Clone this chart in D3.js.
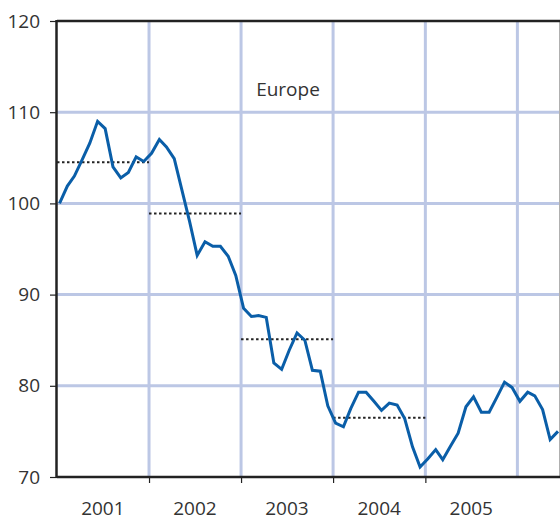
<!DOCTYPE html>
<html>
<head>
<meta charset="utf-8">
<script src="https://cdn.jsdelivr.net/npm/d3@7"></script>
<style>
  body { margin: 0; background: #fff; }
  text { font-family: "Liberation Sans Narrow", "Open Sans", sans-serif; fill: #333; }
</style>
</head>
<body>
<div id="chart"></div>
<script>
// monthly index, Europe (Jan 2001 = 100)
var values = [
  100.0, 101.9, 103.0, 104.8, 106.6, 109.0, 108.2, 104.0, 102.8, 103.4, 105.1, 104.6,
  105.5, 107.0, 106.2, 104.9, 101.5, 98.0, 94.3, 95.8, 95.3, 95.3, 94.2, 92.1,
  88.5, 87.6, 87.7, 87.5, 82.5, 81.8, 83.9, 85.8, 85.0, 81.7, 81.6, 77.8,
  75.9, 75.5, 77.5, 79.3, 79.3, 78.3, 77.3, 78.1, 77.9, 76.4, 73.3, 71.1,
  72.0, 73.0, 71.9, 73.4, 74.8, 77.7, 78.8, 77.1, 77.1, 78.7, 80.4, 79.8,
  78.3, 79.3, 78.9, 77.4, 74.1, 75.0
];
var years = [2001, 2002, 2003, 2004, 2005];
var yearAvg = [104.5, 98.9, 85.1, 76.5];
var yTicks = [70, 80, 90, 100, 110, 120];
var title = "Europe";

var width = 560,
    height = 521,
    plotLeft = 57,
    plotTop = 21,
    plotBottom = 477,
    plotRight = 560;

// one point per month, drawn a few days into the month
var months = d3.timeMonth.range(new Date(2001, 0, 1), new Date(2007, 0, 1))
    .slice(0, values.length)
    .map(function(d) { return d3.timeDay.offset(d, 10); });

var x = d3.scaleTime()
    .domain([new Date(2001, 0, 1), new Date(2006, 5, 19)])
    .range([plotLeft, plotRight]);

var y = d3.scaleLinear()
    .domain([70, 120])
    .range([plotBottom, plotTop]);

var svg = d3.select("#chart").append("svg")
    .attr("width", width)
    .attr("height", height);

var yearStarts = years.concat([2006]).map(function(d) { return new Date(d, 0, 1); });

// grid
svg.append("g")
    .selectAll("line")
    .data(yTicks.slice(1, -1))
  .enter().append("line")
    .attr("x1", plotLeft)
    .attr("x2", plotRight)
    .attr("y1", function(d) { return y(d); })
    .attr("y2", function(d) { return y(d); })
    .style("stroke", "#bcc7e5")
    .style("stroke-width", 3);

svg.append("g")
    .selectAll("line")
    .data(yearStarts.slice(1))
  .enter().append("line")
    .attr("x1", function(d) { return x(d); })
    .attr("x2", function(d) { return x(d); })
    .attr("y1", plotTop)
    .attr("y2", plotBottom)
    .style("stroke", "#bcc7e5")
    .style("stroke-width", 3);

// right edge
svg.append("line")
    .attr("x1", plotRight - 0.5).attr("x2", plotRight - 0.5)
    .attr("y1", plotTop).attr("y2", plotBottom)
    .style("stroke", "#b0b0b0")
    .style("stroke-width", 1);

// yearly averages
svg.append("g")
    .selectAll("line")
    .data(yearAvg)
  .enter().append("line")
    .attr("x1", function(d, i) { return x(yearStarts[i]); })
    .attr("x2", function(d, i) { return x(yearStarts[i + 1]); })
    .attr("y1", function(d) { return y(d); })
    .attr("y2", function(d) { return y(d); })
    .style("stroke", "#222")
    .style("stroke-width", 2)
    .style("stroke-dasharray", "2.5,2.5");

// series
var line = d3.line()
    .x(function(d, i) { return x(months[i]); })
    .y(function(d) { return y(d); });

svg.append("clipPath")
    .attr("id", "clip")
  .append("rect")
    .attr("x", plotLeft).attr("y", plotTop)
    .attr("width", plotRight - plotLeft).attr("height", plotBottom - plotTop);

svg.append("path")
    .datum(values)
    .attr("clip-path", "url(#clip)")
    .attr("d", line)
    .style("fill", "none")
    .style("stroke", "#0a5ea8")
    .style("stroke-width", 3)
    .style("stroke-linejoin", "miter");

// axes
var yAxis = svg.append("g")
    .attr("transform", "translate(" + plotLeft + ",0)")
    .call(d3.axisLeft(y).tickValues(yTicks).tickSize(7).tickPadding(10));
yAxis.select(".domain").remove();
yAxis.selectAll(".tick line").style("stroke", "#222").style("stroke-width", 1.2);
yAxis.selectAll(".tick text")
    .style("font-size", "19px")
    .style("fill", "#333")
    .style("font-family", "\"Liberation Sans Narrow\", \"Open Sans\", sans-serif");

var xAxis = svg.append("g")
    .attr("transform", "translate(0," + plotBottom + ")")
    .call(d3.axisBottom(x).tickValues(yearStarts.slice(1, -1)).tickSize(6).tickFormat(""));
xAxis.select(".domain").remove();
xAxis.selectAll(".tick line").style("stroke", "#222").style("stroke-width", 1.2);

svg.append("g")
    .selectAll("text")
    .data(years)
  .enter().append("text")
    .attr("x", function(d) { return x(new Date(d, 6, 2)); })
    .attr("y", 515)
    .attr("text-anchor", "middle")
    .style("font-size", "19px")
    .text(function(d) { return d; });

// frame
svg.append("line")
    .attr("x1", plotLeft).attr("x2", plotRight)
    .attr("y1", plotTop).attr("y2", plotTop)
    .style("stroke", "#222").style("stroke-width", 2.5);
svg.append("line")
    .attr("x1", plotLeft).attr("x2", plotRight)
    .attr("y1", plotBottom).attr("y2", plotBottom)
    .style("stroke", "#222").style("stroke-width", 2.5);
svg.append("line")
    .attr("x1", plotLeft - 0.5).attr("x2", plotLeft - 0.5)
    .attr("y1", plotTop - 1).attr("y2", plotBottom + 1)
    .style("stroke", "#222").style("stroke-width", 2.5);

svg.append("text")
    .attr("x", 288)
    .attr("y", 96)
    .attr("text-anchor", "middle")
    .style("font-size", "19px")
    .text(title);
</script>
</body>
</html>
